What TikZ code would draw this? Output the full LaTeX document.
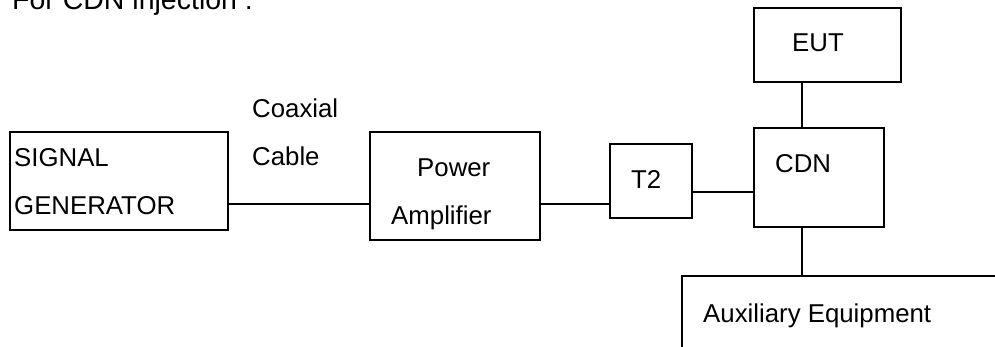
\documentclass[tikz,border=0pt]{standalone}
\usepackage{fontspec}
\setmainfont{Liberation Sans}
\usetikzlibrary{positioning, calc}

\begin{document}
\begin{tikzpicture}[
    x=1pt, y=-1pt,
    % Node styles
    unit/.style={
        rectangle, draw=black, line width=1.5pt, inner sep=0pt
    },
    txt/.style={
        inner sep=0pt, font=\fontsize{25.8}{48}\selectfont, align=left
    },
    heading/.style={
        inner sep=0pt, font=\fontsize{28.5}{34}\selectfont
    },
    wire/.style={line width=1.5pt, black}
]

\useasboundingbox (0,0) rectangle (995,347);

% ============================================================
% Boxes
% ============================================================

\node[unit, minimum width=218pt, minimum height=98pt] (siggen) at (119,181) {};
\node[unit, minimum width=170pt, minimum height=108pt] (amp) at (455,186) {};
\node[unit, minimum width=82pt, minimum height=74pt] (t2) at (651,181) {};
\node[unit, minimum width=130pt, minimum height=99pt] (cdn) at (819,177.5) {};
\node[unit, minimum width=147pt, minimum height=74pt] (eut) at (827.5,45) {};
\node[unit, minimum width=418pt, minimum height=144pt] (aux) at (891,348) {};

% ============================================================
% Texts
% ============================================================

\node[heading, anchor=base west] (title) at (12,10) {For CDN injection :};

\node[txt, anchor=north west] (siggen_txt) at (14,148) {SIGNAL\\GENERATOR};
\node[txt, anchor=north west] (cable_txt) at (252,99) {Coaxial\\Cable};
\node[txt, anchor=north west] (amp_txt) at (391,159) {\hspace*{26pt}Power\\Amplifier};
\node[txt, anchor=base west] (t2_txt) at (631,189) {T2};
\node[txt, anchor=base west] (cdn_txt) at (775,173) {CDN};
\node[txt, anchor=base west] (eut_txt) at (792,52) {EUT};
\node[txt, anchor=base west] (aux_txt) at (703,322) {Auxiliary Equipment};

% ============================================================
% Wires
% ============================================================

\draw[wire] ([yshift=-23pt]siggen.east) coordinate (w1) -- (w1 -| amp.west);
\draw[wire] ([yshift=-18pt]amp.east) coordinate (w2) -- (w2 -| t2.west);
\draw[wire] ([yshift=-11pt]t2.east) coordinate (w3) -- (w3 -| cdn.west);
\draw[wire] ([xshift=-17pt]cdn.north) coordinate (w4) -- (w4 |- eut.south);
\draw[wire] ([xshift=-17pt]cdn.south) coordinate (w5) -- (w5 |- aux.north);

\end{tikzpicture}
\end{document}
